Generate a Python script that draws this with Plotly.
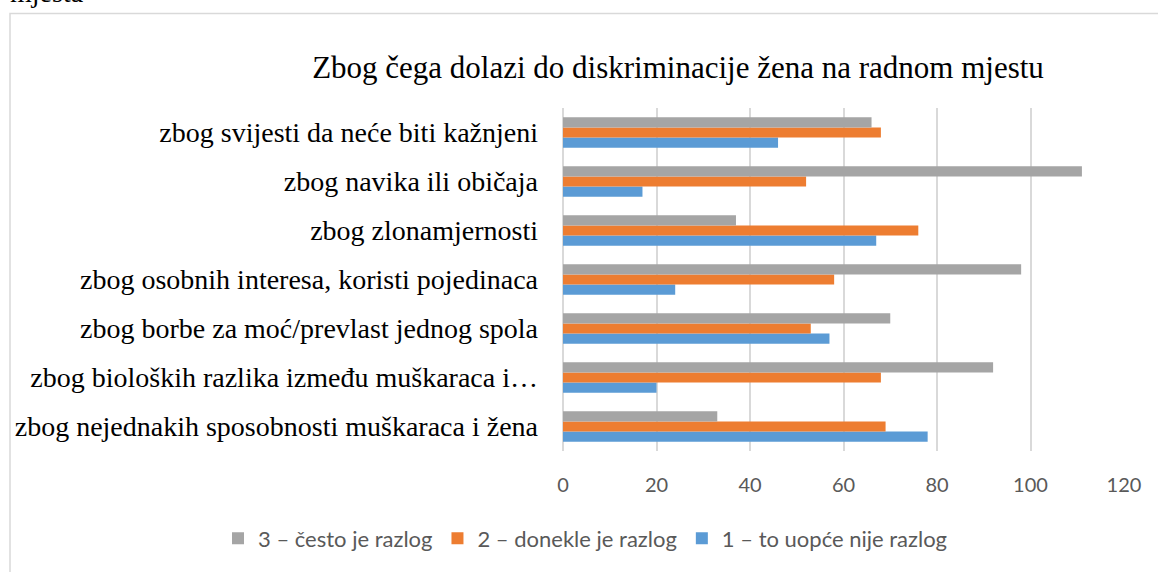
import plotly.graph_objects as go

# categories listed bottom to top (plotly draws first category at the bottom)
categories = [
    "zbog nejednakih sposobnosti muškaraca i žena",
    "zbog bioloških razlika između muškaraca i…",
    "zbog borbe za moć/prevlast jednog spola",
    "zbog osobnih interesa, koristi pojedinaca",
    "zbog zlonamjernosti",
    "zbog navika ili običaja",
    "zbog svijesti da neće biti kažnjeni",
]
series_names = ["1 – to uopće nije razlog", "2 – donekle je razlog", "3 – često je razlog"]
values_1 = [78, 20, 57, 24, 67, 17, 46]
values_2 = [69, 68, 53, 58, 76, 52, 68]
values_3 = [33, 92, 70, 98, 37, 111, 66]
x_ticks = [0, 20, 40, 60, 80, 100, 120]

colors = ["#5b9bd5", "#ed7d31", "#a5a5a5"]

W, H = 1158, 572
L, R, T, B = 563, 34, 108, 119
pw, ph = W - L - R, H - T - B


def px_x(px):
    return (px - L) / pw


def px_y(py):
    return (H - B - py) / ph


fig = go.Figure()
for name, vals, col in zip(series_names, [values_1, values_2, values_3], colors):
    fig.add_trace(go.Bar(
        y=categories, x=vals, name=name, orientation="h",
        marker=dict(color=col, line=dict(width=0)),
    ))

fig.update_layout(
    width=W, height=H,
    margin=dict(l=L, r=R, t=T, b=B),
    paper_bgcolor="white", plot_bgcolor="white",
    barmode="group", bargap=0.38, bargroupgap=0,
    title=dict(
        text="Zbog čega dolazi do diskriminacije žena na radnom mjestu",
        x=678 / W, xanchor="center", y=1 - 67 / H, yanchor="middle",
        font=dict(family="Liberation Serif", size=31, color="#000000"),
    ),
    legend=dict(
        orientation="h", traceorder="reversed",
        x=px_x(218), xref="paper", xanchor="left",
        y=px_y(541), yref="paper", yanchor="middle",
        font=dict(family="Lato", size=22, color="#595959"),
        itemwidth=30,
    ),
    xaxis=dict(
        range=[0, 120], tickvals=x_ticks, showgrid=True, gridcolor="#d9d9d9", gridwidth=1.5,
        zeroline=True, zerolinecolor="#d9d9d9", zerolinewidth=1.5, showline=False,
        tickfont=dict(family="Lato", size=20, color="#595959"), ticks="",
        ticklabelstandoff=20,
    ),
    yaxis=dict(
        showgrid=False, showline=False, ticks="",
        tickfont=dict(family="Liberation Serif", size=28, color="#000000"),
        ticklabelstandoff=24,
    ),
    shapes=[dict(
        type="rect", xref="paper", yref="paper",
        x0=px_x(10), x1=px_x(1300), y0=px_y(700), y1=px_y(13),
        line=dict(color="#d9d9d9", width=1.5), fillcolor="rgba(0,0,0,0)", layer="below",
    )],
    annotations=[dict(
        text="mjesta", xref="paper", yref="paper",
        x=px_x(8), y=px_y(-8), xanchor="left", yanchor="middle", showarrow=False,
        font=dict(family="Liberation Serif", size=28, color="#000000"),
    )],
)

fig.write_html("out.html", config={"displayModeBar": False},
               post_script="document.body.style.margin='0';")
